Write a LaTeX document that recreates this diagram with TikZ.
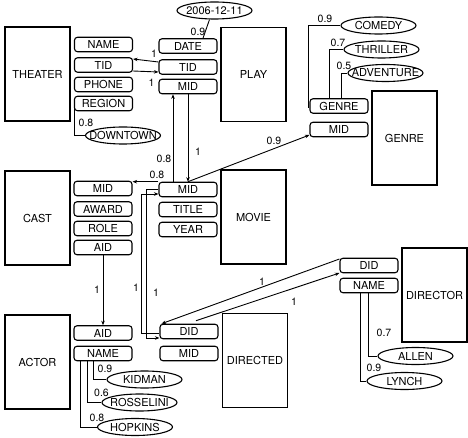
\documentclass[tikz,border=0pt]{standalone}
\usepackage{fontspec}
\setmainfont{TeX Gyre Heros}
\usetikzlibrary{arrows.meta,shapes.geometric,calc}
\newcommand\valtext[1]{\makebox[0pt]{#1}}
\begin{document}
\begin{tikzpicture}[x=1pt,y=-1pt,
  ent/.style={draw,line width=1.2pt,minimum width=65pt,minimum height=94pt,inner sep=0pt,font=\fontsize{11}{13}\selectfont},
  attr/.style={draw,line width=1.1pt,rounded corners=3pt,minimum width=58pt,minimum height=14.5pt,inner sep=0pt,font=\fontsize{11}{13}\selectfont},
  val/.style={draw,ellipse,line width=1.1pt,minimum width=75pt,minimum height=17pt,inner sep=0pt,font=\fontsize{11}{13}\selectfont},
  lbl/.style={inner sep=0pt,font=\fontsize{10.5}{12}\selectfont},
  conn/.style={line width=0.9pt},
  arr/.style={conn,-{Stealth[length=4.5pt,width=3.5pt]}},
]
\useasboundingbox (0,0) rectangle (468,438);

% entities
\node[ent] (theater) at (37.5,74) {THEATER};
\node[ent] (play) at (253.5,74.5) {PLAY};
\node[ent] (genre) at (404.5,138) {GENRE};
\node[ent] (cast) at (37.5,218) {CAST};
\node[ent] (movie) at (253.5,217) {MOVIE};
\node[ent] (director) at (434.5,295) {DIRECTOR};
\node[ent] (actor) at (37.5,362) {ACTOR};
\node[ent] (directed) at (255,360.5) {DIRECTED};

% theater attributes
\node[attr] (tname) at (103.5,44.5) {NAME};
\node[attr] (ttid) at (103.5,65) {TID};
\node[attr] (tphone) at (103.5,84.5) {PHONE};
\node[attr] (treg) at (103.5,103.5) {REGION};
% play attributes
\node[attr] (pdate) at (188,46) {DATE};
\node[attr] (ptid) at (188,67) {TID};
\node[attr] (pmid) at (188,86.5) {MID};
% genre attributes
\node[attr] (ggen) at (339,106) {GENRE};
\node[attr] (gmid) at (339,129.5) {MID};
% cast attributes
\node[attr] (cmid) at (103,188.5) {MID};
\node[attr] (caward) at (103,209) {AWARD};
\node[attr] (crole) at (103,228.5) {ROLE};
\node[attr] (caid) at (103,247.5) {AID};
% movie attributes
\node[attr] (mmid) at (188,189.5) {MID};
\node[attr] (mtitle) at (188,209.5) {TITLE};
\node[attr] (myear) at (188,229.5) {YEAR};
% director attributes
\node[attr] (rdid) at (369,265.5) {DID};
\node[attr] (rname) at (369,285.5) {NAME};
% actor attributes
\node[attr] (aaid) at (103,333) {AID};
\node[attr] (aname) at (103,353.5) {NAME};
% directed attributes
\node[attr] (ddid) at (189,331.5) {DID};
\node[attr] (dmid) at (189,353.5) {MID};

% values
\node[val] (edate) at (214.5,10.5) {\valtext{2006-12-11}};
\node[val] (edown) at (123,135.5) {\valtext{DOWNTOWN}};
\node[val] (ecom) at (378.5,25.5) {\valtext{COMEDY}};
\node[val] (ethr) at (381.5,49.5) {\valtext{THRILLER}};
\node[val] (eadv) at (385.5,73) {\valtext{ADVENTURE}};
\node[val] (ekid) at (144.5,379.5) {\valtext{KIDMAN}};
\node[val] (eross) at (139.5,402.5) {\valtext{ROSSELINI}};
\node[val] (ehop) at (135,427) {\valtext{HOPKINS}};
\node[val] (eallen) at (415.5,356) {\valtext{ALLEN}};
\node[val] (elynch) at (404.5,381) {\valtext{LYNCH}};

% connectors
\draw[conn] ([xshift=-5pt]edate.south) -- ([xshift=15pt]pdate.north);
\draw[arr] ([yshift=5pt]ptid.west) -- ([yshift=6pt]ttid.east);
\draw[arr] ([yshift=-6pt]ttid.east) -- ([yshift=-5pt]ptid.west);
\draw[conn] (treg.west) |- (edown.west);
\draw[arr] ([xshift=-15pt]mmid.north) -- ([xshift=-15pt]pmid.south);
\draw[arr] (pmid.south) -- (mmid.north);
\draw[arr] (mmid.north west) -- (cmid.east |- mmid.north west);
\draw[arr] (mmid.north) -- ([yshift=-5.5pt]gmid.west);
\draw[arr] (caid.south) -- (aaid.north);
\draw[arr] ([yshift=-1.5pt]ddid.west) -- ++(-18,0) |- ([yshift=-4.5pt]mmid.west);
\draw[arr] ([yshift=0.5pt]mmid.west) -- ++(-12,0) |- ([yshift=-6.5pt]ddid.west);
\draw[arr] ([yshift=6.5pt]rdid.west) -- ([xshift=2pt]ddid.north west);
\draw[arr] ([xshift=7pt,yshift=3pt]ddid.north) -- ([yshift=-7.5pt]rdid.west);
\draw[conn] ([xshift=-1pt]rname.south) |- (eallen.west);
\draw[conn] ([xshift=-9pt]rname.south) |- (elynch.west);
\draw[conn] ([xshift=-10pt]aname.south) |- (ekid.west);
\draw[conn] ([xshift=-16pt]aname.south) |- (eross.west);
\draw[conn] ([xshift=-23pt]aname.south) |- (ehop.west);
\draw[conn] ([xshift=-1pt,yshift=-2pt]ggen.west) |- (ecom.west);
\draw[conn] ([xshift=-10pt]ggen.north) |- (ethr.west);
\draw[conn] ([xshift=2pt]ggen.north) |- (eadv.west);

% labels
\node[lbl] (l1) at (198,31.7) {0.9};
\node[lbl] (l2) at (154,54) {1};
\node[lbl] (l3) at (151.5,83) {1};
\node[lbl] (l4) at (86,122.5) {0.8};
\node[lbl] (l5) at (164,159) {0.8};
\node[lbl] (l6) at (198,152) {1};
\node[lbl] (l7) at (157,175) {0.8};
\node[lbl] (l8) at (274,140.5) {0.9};
\node[lbl] (l9) at (97,289.5) {1};
\node[lbl] (l10) at (136,288) {1};
\node[lbl] (l11) at (156,293) {1};
\node[lbl] (l12) at (262,282) {1};
\node[lbl] (l13) at (294,302) {1};
\node[lbl] (l14) at (384,333) {0.7};
\node[lbl] (l15) at (374,368) {0.9};
\node[lbl] (l16) at (105,369) {0.9};
\node[lbl] (l17) at (101.5,392.5) {0.6};
\node[lbl] (l18) at (97,417.5) {0.8};
\node[lbl] (l19) at (325,19) {0.9};
\node[lbl] (l20) at (338,42.5) {0.7};
\node[lbl] (l21) at (344,66) {0.5};
\end{tikzpicture}
\end{document}
